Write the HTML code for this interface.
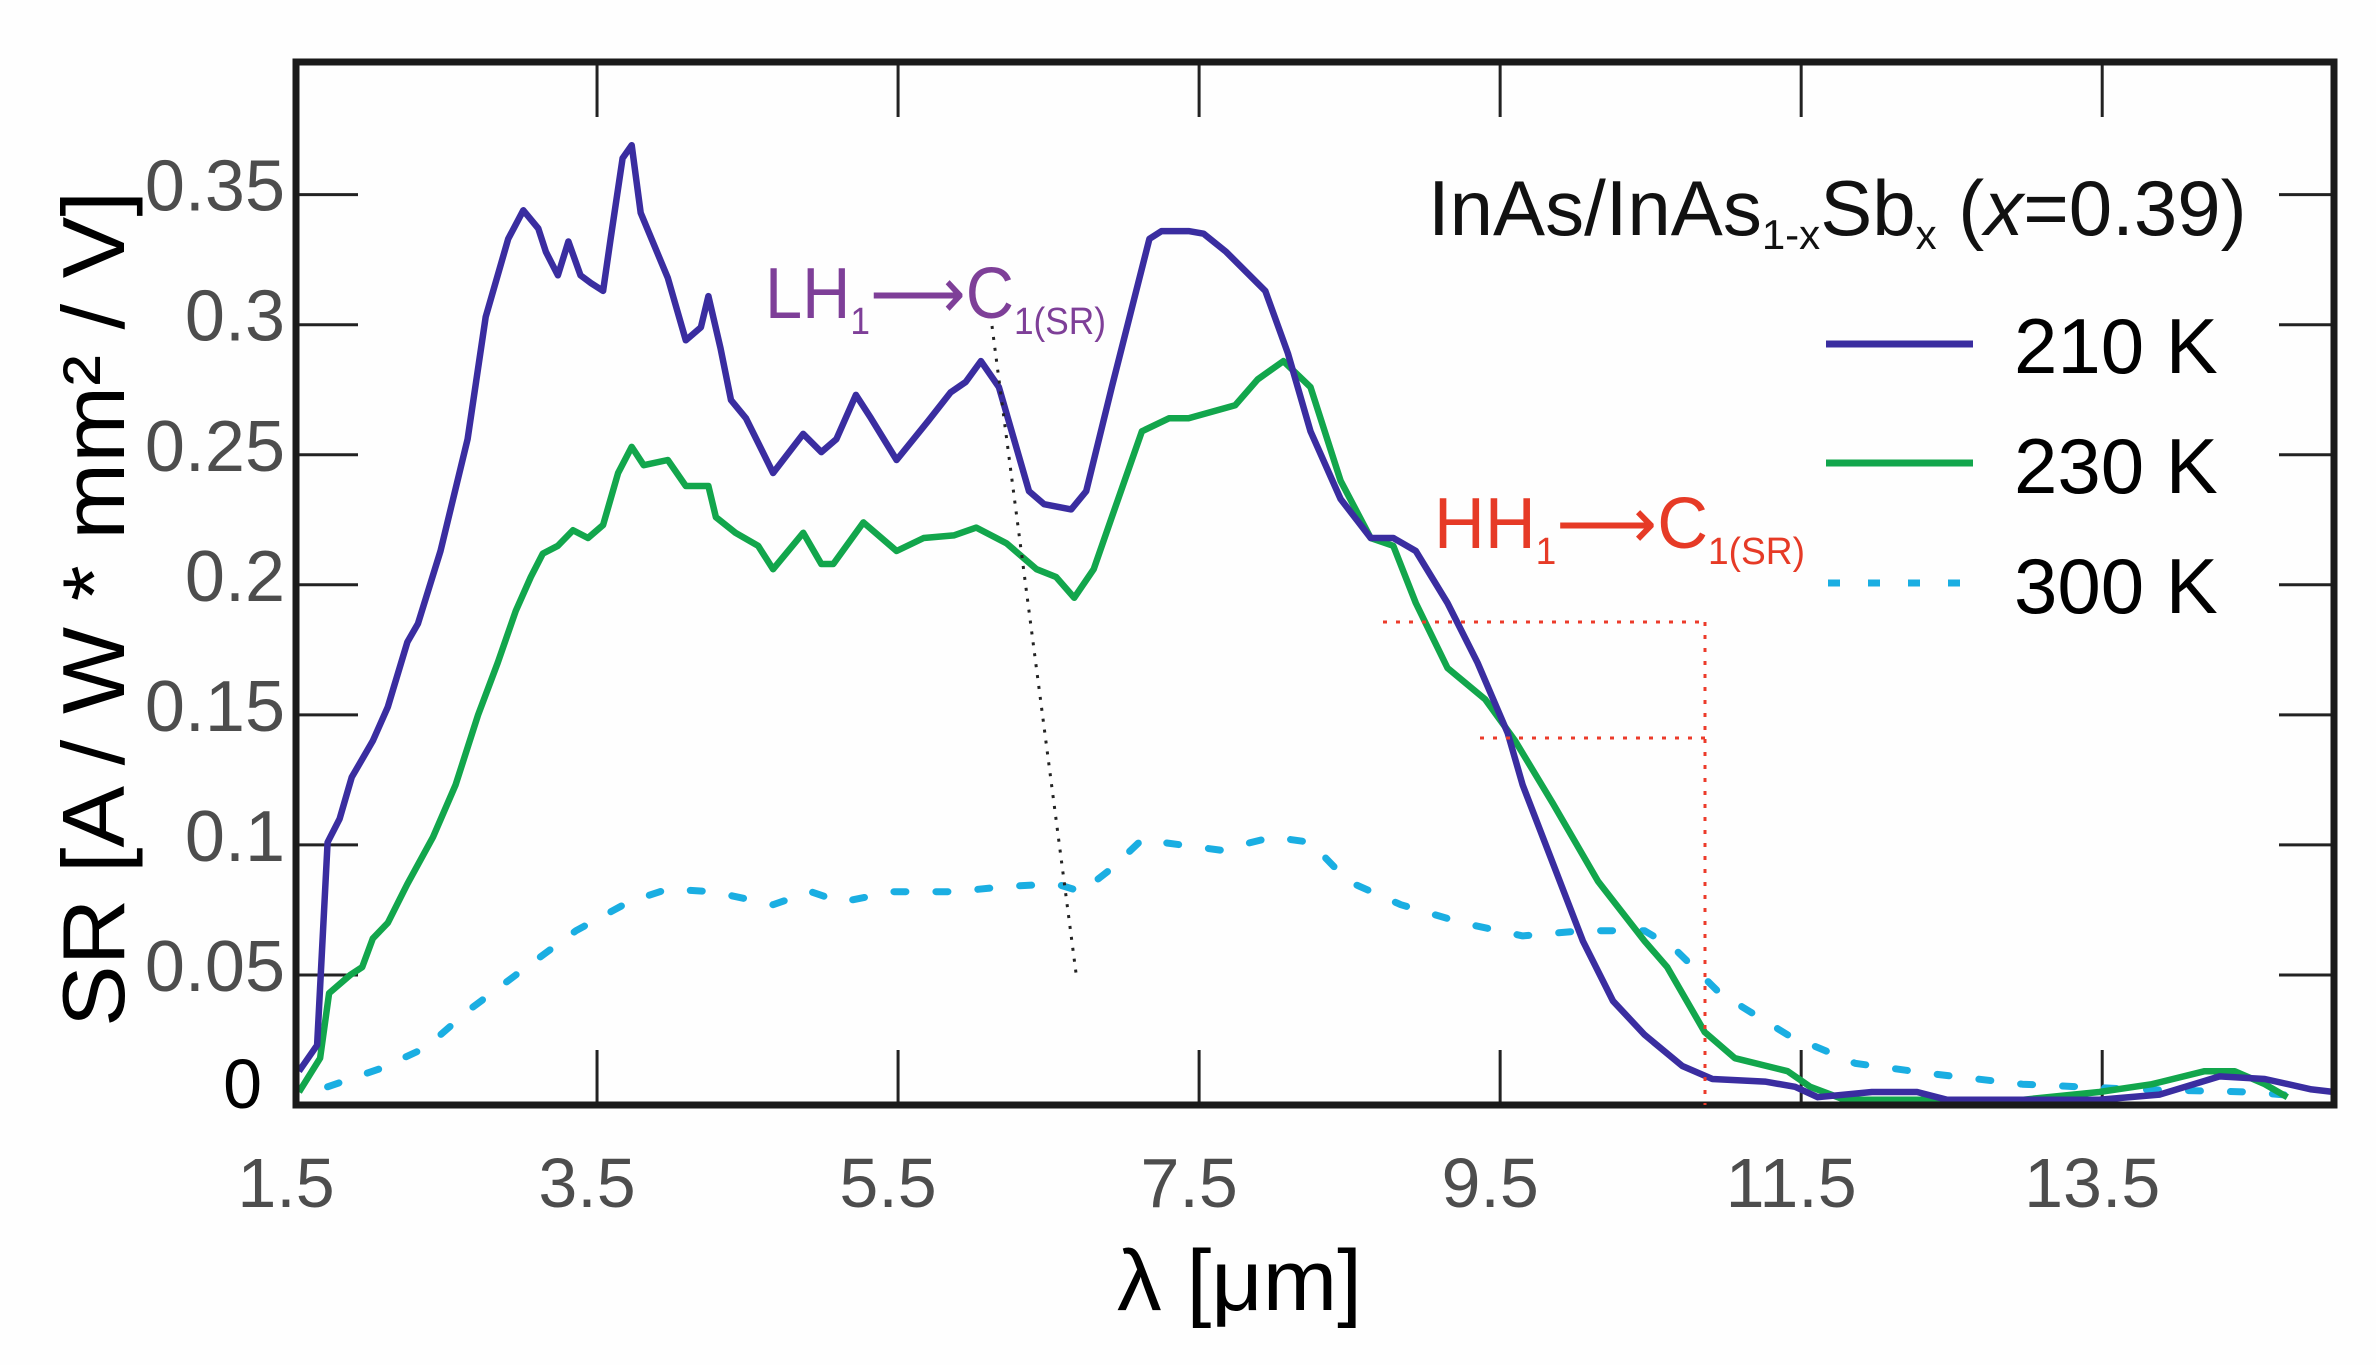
<!DOCTYPE html>
<html><head><meta charset="utf-8"><style>
html,body{margin:0;padding:0;background:#fff;}
svg{display:block;}
text{font-family:"Liberation Sans",Arial,sans-serif;}
.arr{font-family:"Liberation Sans","DejaVu Sans",sans-serif;}
</style></head><body>
<svg id="chart" width="2376" height="1365" viewBox="0 0 2376 1365" xmlns="http://www.w3.org/2000/svg">
<rect x="0" y="0" width="2376" height="1365" fill="#fefefe"/>
<g id="ticks"></g>
<g id="series"></g>
<rect x="296" y="62" width="2038" height="1043" fill="none" stroke="#1a1a1a" stroke-width="7"/>
<g id="labels"></g>
<text x="124" y="609" transform="rotate(-90 124 609)" text-anchor="middle" font-size="88" fill="#000" textLength="836" lengthAdjust="spacingAndGlyphs">SR [A / W * mm² / V]</text>
<text x="1117" y="1310" font-size="86" fill="#000" textLength="245" lengthAdjust="spacingAndGlyphs">λ [μm]</text>
<text x="1428" y="235" font-size="78" fill="#111">InAs/InAs<tspan font-size="42" dy="14">1-x</tspan><tspan dy="-14">Sb</tspan><tspan font-size="42" dy="14">x</tspan><tspan dy="-14"> (</tspan><tspan font-style="italic">x</tspan>=0.39)</text>
<line x1="1826" y1="344" x2="1973" y2="344" stroke="#3a2da0" stroke-width="7"/>
<text x="2014" y="373" font-size="78" fill="#000">210 K</text>
<line x1="1826" y1="463" x2="1973" y2="463" stroke="#12a64c" stroke-width="7"/>
<text x="2014" y="493" font-size="78" fill="#000">230 K</text>
<line x1="1828" y1="583" x2="1973" y2="583" stroke="#1aaee2" stroke-width="7" stroke-dasharray="12 28"/>
<text x="2014" y="613" font-size="78" fill="#000">300 K</text>
<line x1="992" y1="326" x2="1076" y2="973" stroke="#222" stroke-width="3" stroke-dasharray="3 8"/>
<text x="765" y="318" font-size="72" fill="#7e3f98" textLength="341" lengthAdjust="spacingAndGlyphs">LH<tspan font-size="38" dy="16">1</tspan><tspan dy="-16" class="arr">⟶</tspan>C<tspan font-size="38" dy="16">1(SR)</tspan></text>
<text x="1434" y="548" font-size="72" fill="#e63a26" textLength="371" lengthAdjust="spacingAndGlyphs">HH<tspan font-size="38" dy="16">1</tspan><tspan dy="-16" class="arr">⟶</tspan>C<tspan font-size="38" dy="16">1(SR)</tspan></text>
<g stroke="#ec3b2a" stroke-width="3" stroke-dasharray="4 9" fill="none">
<line x1="1383" y1="622" x2="1705" y2="622"/>
<line x1="1480" y1="738" x2="1705" y2="738"/>
<line x1="1705" y1="622" x2="1705" y2="1105"/>
</g>
</svg>
<script>
const xTicks=[1.5,3.5,5.5,7.5,9.5,11.5,13.5];
const yTicks=[0,0.05,0.1,0.15,0.2,0.25,0.3,0.35];
const yTickLabels=["0","0.05","0.1","0.15","0.2","0.25","0.3","0.35"];
const x210=[1.52,1.64,1.71,1.79,1.87,2.01,2.11,2.24,2.31,2.46,2.64,2.76,2.91,3.01,3.11,3.16,3.24,3.31,3.39,3.46,3.54,3.59,3.67,3.73,3.79,3.97,4.09,4.19,4.24,4.32,4.39,4.49,4.67,4.87,4.99,5.09,5.22,5.32,5.49,5.70,5.85,5.95,6.05,6.17,6.37,6.47,6.65,6.75,6.92,7.17,7.25,7.43,7.53,7.68,7.94,8.09,8.24,8.44,8.64,8.79,8.94,9.15,9.35,9.55,9.65,9.85,10.05,10.25,10.46,10.71,10.91,11.26,11.46,11.61,11.97,12.27,12.47,13.48,13.88,14.28,14.58,14.89,15.04];
const y210=[0.013,0.023,0.101,0.11,0.126,0.14,0.153,0.178,0.185,0.213,0.256,0.303,0.333,0.344,0.337,0.328,0.319,0.332,0.319,0.316,0.313,0.333,0.364,0.369,0.343,0.318,0.294,0.299,0.311,0.291,0.271,0.264,0.243,0.258,0.251,0.256,0.273,0.264,0.248,0.263,0.274,0.278,0.286,0.276,0.236,0.231,0.229,0.236,0.276,0.333,0.336,0.336,0.335,0.328,0.313,0.289,0.259,0.233,0.218,0.218,0.213,0.193,0.170,0.143,0.123,0.093,0.063,0.040,0.027,0.015,0.010,0.009,0.007,0.003,0.005,0.005,0.002,0.002,0.004,0.011,0.010,0.006,0.005];
const x230=[1.52,1.66,1.72,1.86,1.94,2.01,2.11,2.24,2.41,2.56,2.71,2.84,2.96,3.06,3.14,3.24,3.34,3.44,3.54,3.64,3.73,3.81,3.97,4.09,4.24,4.29,4.42,4.57,4.67,4.87,4.99,5.07,5.27,5.49,5.67,5.87,6.02,6.22,6.42,6.55,6.67,6.80,6.92,7.12,7.30,7.43,7.74,7.89,8.06,8.24,8.44,8.64,8.79,8.94,9.15,9.40,9.60,9.85,10.15,10.46,10.61,10.86,11.06,11.41,11.56,11.79,12.97,13.48,13.83,14.18,14.38,14.58,14.73];
const y230=[0.005,0.018,0.043,0.05,0.053,0.064,0.07,0.085,0.103,0.123,0.15,0.17,0.19,0.203,0.212,0.215,0.221,0.218,0.223,0.243,0.253,0.246,0.248,0.238,0.238,0.226,0.22,0.215,0.206,0.22,0.208,0.208,0.224,0.213,0.218,0.219,0.222,0.216,0.206,0.203,0.195,0.206,0.226,0.259,0.264,0.264,0.269,0.279,0.286,0.276,0.240,0.218,0.215,0.193,0.168,0.156,0.140,0.116,0.086,0.063,0.053,0.028,0.018,0.013,0.007,0.002,0.002,0.005,0.008,0.013,0.013,0.008,0.003];
const x300=[1.71,2.06,2.36,2.66,2.96,3.36,3.71,3.97,4.27,4.67,4.92,5.12,5.47,5.87,6.22,6.55,6.72,6.92,7.12,7.64,7.99,8.24,8.49,8.84,9.25,9.65,10.05,10.46,10.66,10.96,11.41,11.86,12.37,12.97,13.73,14.48,14.89];
const y300=[0.007,0.014,0.022,0.037,0.05,0.067,0.078,0.083,0.082,0.077,0.082,0.078,0.082,0.082,0.084,0.085,0.082,0.091,0.102,0.098,0.103,0.101,0.086,0.077,0.070,0.065,0.067,0.067,0.060,0.043,0.027,0.016,0.012,0.008,0.006,0.005,0.003];

const L=296,R=2334,T=62,B=1105,XMIN=1.5,XMAX=15.04,YMIN=0,YMAX=0.401;
function sx(v){return L+(v-XMIN)/(XMAX-XMIN)*(R-L);}
function sy(v){return B-(v-YMIN)/(YMAX-YMIN)*(B-T);}
const NS="http://www.w3.org/2000/svg";
const tg=document.getElementById('ticks'),lg=document.getElementById('labels'),sg=document.getElementById('series');
function mk(tag,attrs,parent){const e=document.createElementNS(NS,tag);for(const k in attrs)e.setAttribute(k,attrs[k]);parent.appendChild(e);return e;}
xTicks.forEach((v,i)=>{
  if(i>0){
    const a=mk('line',{x1:sx(v),x2:sx(v),y1:B,y2:B-55,stroke:'#222','stroke-width':3},tg);
    
    
    const b=mk('line',{x1:sx(v),x2:sx(v),y1:T,y2:T+55,stroke:'#222','stroke-width':3},tg);
    
    
  }
  const t=mk('text',{x:sx(v)-10,y:1207,'text-anchor':'middle','font-size':70,fill:'#4d4d4d'},lg);
  t.textContent=v.toFixed(1);
  
  
});
yTicks.forEach((v,i)=>{
  if(i>0){
    const a=mk('line',{x1:L,x2:L+62,y1:sy(v),y2:sy(v),stroke:'#222','stroke-width':3},tg);
    
    
    const b=mk('line',{x1:R,x2:R-55,y1:sy(v),y2:sy(v),stroke:'#222','stroke-width':3},tg);
    
    
  }
  const t=mk('text',{x:i===0?262:285,y:i===0?1108:sy(v)+16,'text-anchor':'end','font-size':i===0?70:72,fill:i===0?'#000':'#4d4d4d'},lg);
  t.textContent=yTickLabels[i];
  
  
});
function line(xs,ys,color,dash,name){
  const pts=xs.map((x,i)=>sx(x).toFixed(1)+','+sy(ys[i]).toFixed(1)).join(' ');
  const p=mk('polyline',{points:pts,fill:'none',stroke:color,'stroke-width':dash?7:6.5,'stroke-linejoin':'round','stroke-linecap':dash?'round':'butt'},sg);
  if(dash)p.setAttribute('stroke-dasharray',dash);
  
  
}
line(x300,y300,'#1aaee2','12 30','series-300k');
line(x230,y230,'#12a64c',null,'series-230k');
line(x210,y210,'#3a2da0',null,'series-210k');
</script>
</body></html>
